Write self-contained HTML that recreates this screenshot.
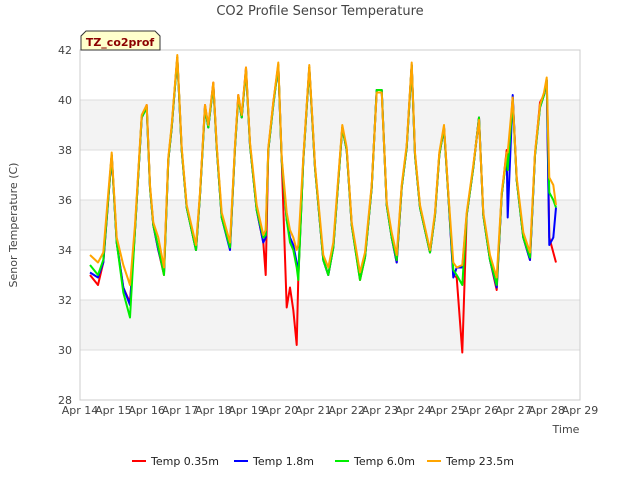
<!DOCTYPE html>
<html><head><meta charset="utf-8"><style>
body{margin:0;background:#fff;font-family:"Liberation Sans",sans-serif}
svg text{font-family:"DejaVu Sans","Liberation Sans",sans-serif}
</style></head><body>
<svg id="c" width="640" height="480" xmlns="http://www.w3.org/2000/svg">
<rect width="640" height="480" fill="#fff"/>
<text x="320" y="15" text-anchor="middle" font-size="13" fill="#444">CO2 Profile Sensor Temperature</text>
<g id="grid"></g>
<g id="series"></g>
<rect x="80" y="50" width="500" height="350" fill="none" stroke="#ccc"/>
<g id="axes"></g>
<text transform="translate(17,225) rotate(-90)" text-anchor="middle" font-size="11" fill="#444">Senor Temperature (C)</text>
<text x="566" y="433" text-anchor="middle" font-size="11" fill="#444">Time</text>
<g>
<path d="M81,50 L81,36 L86,31 L155,31 L160,36 L160,50 Z" fill="#ffffcc" stroke="#333"/>
<text x="120" y="46" text-anchor="middle" font-size="11" font-weight="bold" fill="#8b0000">TZ_co2prof</text>
</g>
<g id="legend"></g>
</svg>
<script>
const xTicks=["Apr 14","Apr 15","Apr 16","Apr 17","Apr 18","Apr 19","Apr 20","Apr 21","Apr 22","Apr 23","Apr 24","Apr 25","Apr 26","Apr 27","Apr 28","Apr 29"];
const yTicks=[28,30,32,34,36,38,40,42];
const seriesNames=["Temp 0.35m","Temp 1.8m","Temp 6.0m","Temp 23.5m"];
const seriesColors=["#ff0000","#0000ff","#00ee00","#ffa500"];
const times=[0.3,0.54,0.7,0.95,1.1,1.3,1.5,1.65,1.85,2.0,2.1,2.2,2.35,2.52,2.65,2.75,2.92,3.05,3.2,3.48,3.6,3.75,3.85,4.0,4.1,4.25,4.5,4.65,4.75,4.85,4.98,5.1,5.3,5.5,5.57,5.65,5.8,5.95,6.05,6.2,6.3,6.4,6.5,6.55,6.7,6.88,7.05,7.3,7.45,7.6,7.87,8.0,8.15,8.4,8.55,8.75,8.9,9.05,9.2,9.35,9.5,9.65,9.8,9.95,10.05,10.2,10.5,10.65,10.78,10.92,11.05,11.2,11.3,11.47,11.6,11.8,11.97,12.1,12.3,12.5,12.65,12.8,12.83,12.98,13.1,13.3,13.5,13.65,13.8,13.92,14.0,14.08,14.2,14.28];
const temp035=[33.0,32.6,33.5,37.8,34.3,32.5,31.9,34.8,39.3,39.8,36.5,35.0,34.0,33.0,37.6,38.9,41.7,38.0,35.7,34.0,36.2,39.8,38.9,40.7,38.1,35.3,34.1,38.1,40.2,39.3,41.3,38.2,35.6,34.3,33.0,38.0,39.9,41.4,37.6,31.7,32.5,31.6,30.2,32.9,37.6,41.3,37.3,33.6,33.0,34.1,38.9,38.0,35.0,32.8,33.7,36.5,40.4,40.4,35.8,34.5,33.5,36.5,38.1,41.4,37.8,35.7,33.9,35.4,37.8,38.9,36.2,33.0,32.9,29.9,35.4,37.3,39.3,35.4,33.6,32.4,36.2,38.0,37.3,40.1,36.8,34.5,33.6,37.8,39.9,40.2,40.8,34.5,33.9,33.5];
const temp18=[33.1,32.9,33.5,37.8,34.3,32.5,31.8,34.8,39.3,39.7,36.5,35.0,34.0,33.1,37.6,38.9,41.7,38.0,35.7,34.0,36.2,39.7,38.9,40.6,38.1,35.3,34.0,38.1,40.1,39.3,41.2,38.2,35.6,34.3,34.5,38.0,39.8,41.4,37.6,35.2,34.5,34.2,33.5,33.0,37.6,41.3,37.3,33.6,33.0,34.1,38.9,38.0,35.0,32.9,33.7,36.5,40.4,40.4,35.8,34.5,33.5,36.5,38.1,41.4,37.8,35.7,33.9,35.4,37.8,38.9,36.2,32.9,33.3,33.3,35.4,37.3,39.3,35.4,33.6,32.5,36.2,37.8,35.3,40.2,36.8,34.5,33.6,37.8,39.7,40.2,40.8,34.2,34.5,35.7];
const temp60=[33.4,33.0,33.6,37.8,34.3,32.3,31.3,34.8,39.3,39.7,36.5,35.0,34.1,33.0,37.6,38.9,41.7,38.0,35.7,34.0,36.2,39.7,38.9,40.6,38.1,35.3,34.1,38.1,40.1,39.3,41.2,38.2,35.6,34.5,34.6,38.0,39.8,41.4,37.6,35.2,34.3,34.0,33.3,32.8,37.6,41.3,37.3,33.6,33.0,34.1,38.9,38.0,35.0,32.8,33.7,36.5,40.4,40.4,35.8,34.5,33.6,36.5,38.1,41.4,37.8,35.7,33.9,35.4,37.8,38.9,36.2,33.2,33.0,32.6,35.4,37.3,39.3,35.4,33.6,32.6,36.2,37.8,37.2,40.0,36.8,34.5,33.7,37.8,39.7,40.2,40.8,36.3,36.0,35.7];
const temp235=[33.8,33.5,33.9,37.9,34.5,33.4,32.6,35.0,39.4,39.8,36.6,35.1,34.5,33.3,37.7,39.0,41.8,38.1,35.8,34.2,36.3,39.8,39.0,40.7,38.2,35.5,34.3,38.2,40.2,39.4,41.3,38.3,35.8,34.6,34.8,38.1,39.9,41.5,37.7,35.5,34.8,34.5,34.0,34.2,37.7,41.4,37.4,33.8,33.3,34.3,39.0,38.1,35.1,33.1,33.9,36.6,40.3,40.3,35.9,34.7,33.8,36.6,38.2,41.5,37.9,35.8,34.0,35.5,37.9,39.0,36.3,33.5,33.3,33.4,35.5,37.4,39.2,35.5,33.8,32.9,36.3,37.9,37.9,40.1,36.9,34.7,33.9,37.9,39.8,40.3,40.9,36.9,36.6,35.8];
const allSeries=[temp035,temp18,temp60,temp235];
const NS="http://www.w3.org/2000/svg";
const X0=80,X1=580,Y0=400,Y1=50;
function xs(d){return X0+(d/15)*(X1-X0);}
function ys(v){return Y0-(v-28)/14*(Y0-Y1);}
function mk(tag,attrs,parent){const e=document.createElementNS(NS,tag);for(const k in attrs)e.setAttribute(k,attrs[k]);parent.appendChild(e);return e;}
const grid=document.getElementById('grid'),axes=document.getElementById('axes'),ser=document.getElementById('series'),leg=document.getElementById('legend');
for(let i=0;i<yTicks.length-1;i++){
  if(i%2===1){const r=mk('rect',{x:X0,y:ys(yTicks[i+1]),width:X1-X0,height:ys(yTicks[i])-ys(yTicks[i+1]),fill:'#f3f3f3'},grid);
  
  }
}
yTicks.forEach(v=>{
  const l=mk('line',{x1:X0,x2:X1,y1:ys(v),y2:ys(v),stroke:'#ddd'},grid);
  
  
  const t=mk('text',{x:X0-8,y:ys(v)+4,'text-anchor':'end','font-size':'11',fill:'#444'},axes);
  t.textContent=v;
  
  
});
xTicks.forEach((s,i)=>{
  const t=mk('text',{x:xs(i),y:414,'text-anchor':'middle','font-size':'11',fill:'#444'},axes);
  t.textContent=s;
  
  
});
allSeries.forEach((arr,si)=>{
  const d=arr.map((v,i)=>(i?'L':'M')+xs(times[i]).toFixed(1)+','+ys(v).toFixed(1)).join(' ');
  const p=mk('path',{d:d,fill:'none',stroke:seriesColors[si],'stroke-width':'2','stroke-linejoin':'round'},ser);
  
  
});
const lx=[132,234,335,427];
seriesNames.forEach((n,i)=>{
  const g=mk('g',{},leg);
  
  
  mk('line',{x1:lx[i],x2:lx[i]+14,y1:461,y2:461,stroke:seriesColors[i],'stroke-width':'2'},g);
  const t=mk('text',{x:lx[i]+19,y:465,'font-size':'11',fill:'#222'},g);
  t.textContent=n;
});
</script>
</body></html>
